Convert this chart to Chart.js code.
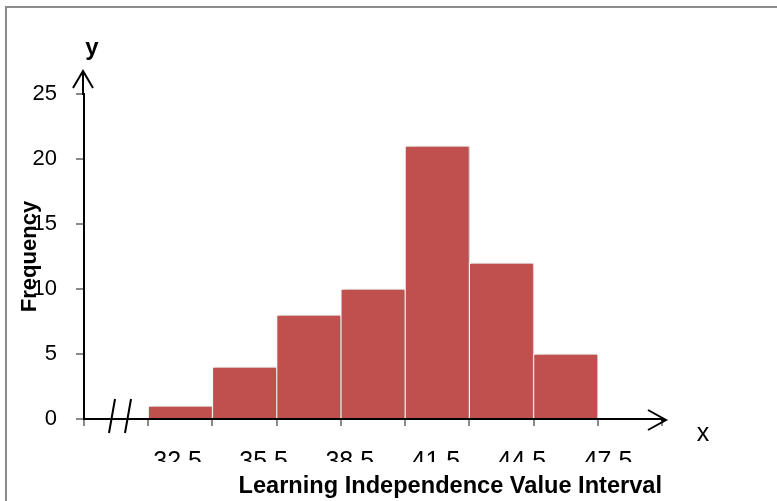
<!DOCTYPE html>
<html>
<head>
<meta charset="utf-8">
<script src="https://cdn.jsdelivr.net/npm/chart.js@4.4.1/dist/chart.umd.min.js"></script>
<style>
  html, body { margin: 0; padding: 0; background: #fff; overflow: hidden; }
  #wrap { position: relative; width: 777px; height: 501px; overflow: hidden; }
  #wrap canvas { position: absolute; left: 0; top: 0; }
  /* grey frame of the pasted Excel chart, runs off the right and bottom edge */
  #frame { position: absolute; left: 5px; top: 6px; width: 900px; height: 600px;
           border-left: 2px solid #8c8c8c; border-top: 2px solid #8c8c8c; pointer-events: none; }
</style>
</head>
<body>
<div id="wrap">
  <canvas id="chart" width="777" height="501"></canvas>
  <div id="frame"></div>
</div>
<script>
// ── Data ──
// first slot is the axis break (//), last slot is empty
const classes = ['', '29.5–32.5', '32.5–35.5', '35.5–38.5', '38.5–41.5', '41.5–44.5', '44.5–47.5', '47.5–50.5', ''];
const frequencies = [null, 1, 4, 8, 10, 21, 12, 5, null];

// interval labels under the axis (they sit on their own scale in the original)
const boundaryTicks = [32.5, 35.5, 38.5, 41.5, 44.5, 47.5];
const boundaryMin = 29.24;
const boundaryMax = 49.38;

const freqMax = 25;
const freqStep = 5;

const FONT = "'Liberation Sans', Arial, sans-serif";
const BAR_RED = '#C0504D';
const TICK_GREY = '#8a8a8a';

// ── Arrows, axis break, x / y letters, label clipping ──
const axisDecor = {
  id: 'axisDecor',
  beforeDatasetsDraw(chart) {
    const c = chart.ctx;
    c.save();
    c.shadowColor = 'rgba(0,0,0,0.28)';
    c.shadowBlur = 4;
    c.shadowOffsetX = 2;
  },
  afterDatasetsDraw(chart) {
    const c = chart.ctx;
    c.restore();
    // the interval labels are cut in half in the original
    c.save();
    c.beginPath();
    c.rect(0, 0, chart.width, chart.scales.x2.top + 35);
    c.clip();
  },
  afterDraw(chart) {
    const c = chart.ctx;
    c.restore();
    const a = chart.chartArea;
    const x0 = a.left - 1;
    const y0 = a.bottom + 1;

    c.save();
    c.strokeStyle = '#000';
    c.lineWidth = 2;
    c.lineCap = 'butt';

    // y arrow
    c.beginPath();
    c.moveTo(x0, a.top + 1);
    c.lineTo(x0, a.top - 23);
    c.stroke();
    c.beginPath();
    c.moveTo(x0 - 10, a.top - 6);
    c.lineTo(x0, a.top - 23);
    c.lineTo(x0 + 10, a.top - 6);
    c.stroke();

    // x arrow
    c.beginPath();
    c.moveTo(a.right - 1, y0);
    c.lineTo(a.right + 4, y0);
    c.stroke();
    c.beginPath();
    c.moveTo(a.right - 14, y0 - 10);
    c.lineTo(a.right + 4, y0);
    c.lineTo(a.right - 14, y0 + 10);
    c.stroke();

    // axis break //
    [28, 44].forEach(dx => {
      const cx = a.left + dx;
      c.beginPath();
      c.moveTo(cx + 3, y0 - 21);
      c.lineTo(cx - 3, y0 + 13);
      c.stroke();
    });

    c.fillStyle = '#000';
    c.font = 'bold 24px ' + FONT;
    c.textAlign = 'center';
    c.textBaseline = 'alphabetic';
    c.fillText('y', x0 + 9, a.top - 39);

    c.font = '25px ' + FONT;
    c.textBaseline = 'middle';
    c.fillText('x', a.right + 41, y0 + 14);
    c.restore();
  }
};

new Chart(document.getElementById('chart'), {
  type: 'bar',
  data: {
    labels: classes,
    datasets: [{
      data: frequencies,
      backgroundColor: BAR_RED,
      borderColor: '#ffffff',
      borderWidth: 1,
      barPercentage: 1,
      categoryPercentage: 1
    }]
  },
  options: {
    responsive: false,
    animation: false,
    events: [],
    layout: { padding: { left: 0, right: 115, top: 94, bottom: 0 } },
    plugins: {
      legend: { display: false },
      tooltip: { enabled: false }
    },
    scales: {
      x: {
        type: 'category',
        position: 'bottom',
        weight: 0,
        offset: true,
        afterFit: s => { s.height = 8; },
        ticks: { display: false },
        grid: { offset: true, drawOnChartArea: false, drawTicks: true, tickLength: 7, color: TICK_GREY, lineWidth: 2 },
        border: { display: true, color: '#000', width: 2 }
      },
      x2: {
        type: 'linear',
        position: 'bottom',
        weight: 1,
        offset: false,
        bounds: 'data',
        min: boundaryMin,
        max: boundaryMax,
        afterBuildTicks: s => {
          s.ticks = boundaryTicks.map(v => ({ value: v }));
          s.min = boundaryMin;
          s.max = boundaryMax;
        },
        afterFit: s => { s.height = 74; },
        grid: { display: false, drawTicks: false, offset: false },
        border: { display: false },
        ticks: {
          z: 1,
          padding: 20,
          maxRotation: 0,
          autoSkip: false,
          color: '#000',
          font: { family: FONT, size: 25 },
          callback: v => Number(v).toFixed(1)
        },
        title: {
          display: true,
          text: 'Learning Independence Value Interval',
          align: 'end',
          color: '#000',
          padding: { top: 0, bottom: 0 },
          font: { family: FONT, size: 23.6, weight: 'bold' }
        }
      },
      y: {
        min: 0,
        max: freqMax,
        afterFit: s => { s.width = 84; },
        ticks: {
          stepSize: freqStep,
          padding: 19,
          color: '#000',
          font: { family: FONT, size: 22 }
        },
        grid: { drawOnChartArea: false, drawTicks: true, tickLength: 8, color: TICK_GREY, lineWidth: 2 },
        border: { display: true, color: '#000', width: 2 },
        title: {
          display: true,
          text: 'Frequency',
          color: '#000',
          padding: { top: 17, bottom: 0 },
          font: { family: FONT, size: 22, weight: 'bold' }
        }
      }
    }
  },
  plugins: [axisDecor]
});
</script>
</body>
</html>
